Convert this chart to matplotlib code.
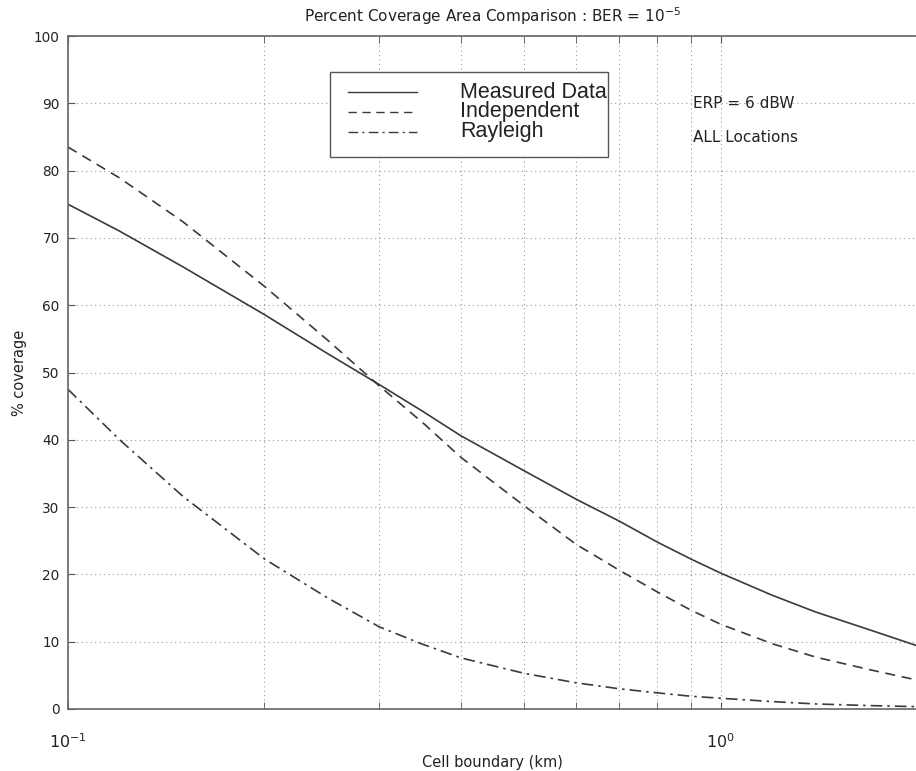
import matplotlib
matplotlib.use("Agg")
import matplotlib.pyplot as plt
from matplotlib.ticker import FixedLocator, NullFormatter, FixedFormatter
from matplotlib.lines import Line2D
from matplotlib.patches import Rectangle

# Cell boundary radius (km)
cell_km = [0.1, 0.12, 0.15, 0.2, 0.25, 0.3, 0.35, 0.4, 0.5, 0.6,
           0.7, 0.8, 0.9, 1.0, 1.2, 1.4, 1.7, 2.0]

# Percent coverage for each model
measured = [75.0, 71.0, 65.7, 58.6, 52.8, 48.2, 44.2, 40.6, 35.4, 31.2,
            27.9, 24.8, 22.3, 20.2, 16.9, 14.4, 11.7, 9.4]
independent = [83.5, 78.9, 72.4, 62.8, 54.8, 48.0, 42.5, 37.4, 30.2, 24.5,
               20.6, 17.4, 14.7, 12.6, 9.7, 7.7, 5.8, 4.3]
rayleigh = [47.5, 40.0, 31.6, 22.3, 16.5, 12.2, 9.6, 7.6, 5.3, 3.9,
            3.0, 2.4, 1.9, 1.6, 1.1, 0.75, 0.5, 0.35]

series_labels = ["Measured Data", "Independent", "Rayleigh"]
y_ticks = [0, 10, 20, 30, 40, 50, 60, 70, 80, 90, 100]
x_major = [0.1, 1.0]
x_major_labels = [r"$10^{-1}$", r"$10^{0}$"]
x_minor = [0.2, 0.3, 0.4, 0.5, 0.6, 0.7, 0.8, 0.9, 2.0]

plt.rcParams["font.family"] = ["DejaVu Sans"]
plt.rcParams["mathtext.fontset"] = "dejavusans"

W, H = 916, 771
fig = plt.figure(figsize=(W / 100, H / 100), dpi=100)
ax_l, ax_r, ax_t, ax_b = 68, 917, 36, 709
ax = fig.add_axes([ax_l / W, 1 - ax_b / H, (ax_r - ax_l) / W, (ax_b - ax_t) / H])

line_col = "#3a3a3a"
txt_col = "#222222"
styles = [dict(linestyle="-"),
          dict(linestyle=(0, (6, 4))),
          dict(linestyle=(0, (7, 3, 1.5, 3)))]

for ys, st in zip([measured, independent, rayleigh], styles):
    ax.plot(cell_km, ys, color=line_col, linewidth=1.2, **st)

ax.set_xscale("log")
ax.set_xlim(0.1, 2.0)
ax.set_ylim(0, 100)

ax.xaxis.set_major_locator(FixedLocator(x_major))
ax.xaxis.set_major_formatter(FixedFormatter(x_major_labels))
ax.xaxis.set_minor_locator(FixedLocator(x_minor))
ax.xaxis.set_minor_formatter(NullFormatter())
ax.yaxis.set_major_locator(FixedLocator(y_ticks))

ax.grid(True, which="both", axis="x", color="#9a9a9a", linestyle=(0, (1, 3)), linewidth=0.8)
ax.grid(True, which="major", axis="y", color="#9a9a9a", linestyle=(0, (1, 3)), linewidth=0.8)

ax.tick_params(axis="both", which="both", direction="in", top=True, right=False,
               color="#555555", labelcolor=txt_col)
ax.tick_params(axis="x", which="major", length=5, labelsize=11.5, pad=17)
ax.tick_params(axis="x", which="minor", length=5)
ax.tick_params(axis="y", which="major", length=5, labelsize=9.8, pad=6)

for side in ["left", "bottom", "top"]:
    ax.spines[side].set_color("#666666")
    ax.spines[side].set_linewidth(1.2)
ax.spines["right"].set_visible(False)

ax.set_title(r"Percent Coverage Area Comparison : BER = $10^{-5}$",
             fontsize=11, color=txt_col, pad=10)
ax.set_xlabel("Cell boundary (km)", fontsize=10.5, color=txt_col, labelpad=3)
ax.set_ylabel("% coverage", fontsize=10.5, color=txt_col, labelpad=5)

# Legend box drawn in axes coordinates
aw, ah = ax_r - ax_l, ax_b - ax_t
def axx(px):
    return (px - ax_l) / aw
def axy(py):
    return (ax_b - py) / ah

ax.add_patch(Rectangle((axx(330), axy(157)), axx(608) - axx(330), axy(72) - axy(157),
                       transform=ax.transAxes, facecolor="white", edgecolor="#555555",
                       linewidth=1.0, zorder=5))
rows = [92, 112, 132]
for lab, st, ry in zip(series_labels, styles, rows):
    ax.add_line(Line2D([axx(348), axx(417)], [axy(ry), axy(ry)], transform=ax.transAxes,
                       color=line_col, linewidth=1.0, zorder=6, **st))
    ax.text(axx(460), axy(ry), lab, transform=ax.transAxes, fontsize=15.5,
            family="Liberation Sans", color=txt_col, va="center", ha="left", zorder=7)

ax.text(axx(693), axy(103), "ERP = 6 dBW", transform=ax.transAxes, fontsize=11,
        color=txt_col, va="center", ha="left")
ax.text(axx(693), axy(137), "ALL Locations", transform=ax.transAxes, fontsize=11,
        color=txt_col, va="center", ha="left")

fig.savefig("out.png", dpi=100, facecolor="white")
